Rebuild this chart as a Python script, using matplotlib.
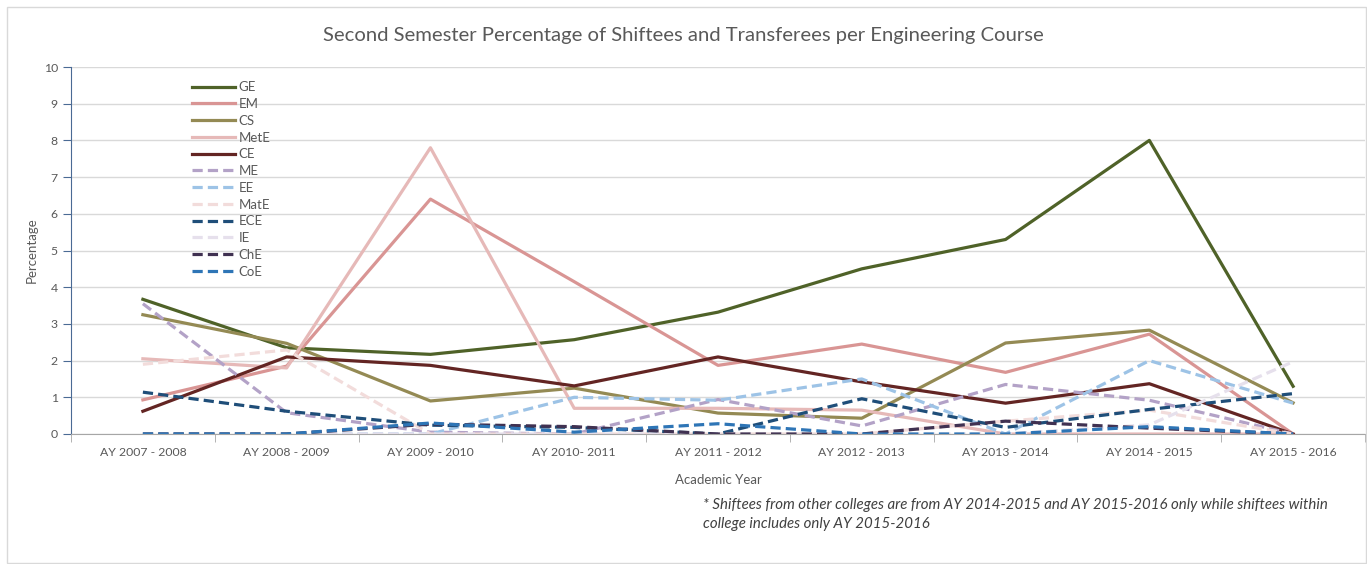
import matplotlib
matplotlib.use("Agg")
import matplotlib.pyplot as plt
from matplotlib.patches import Rectangle

plt.rcParams['font.family'] = ['Lato', 'DejaVu Sans']

years = ["AY 2007 - 2008", "AY 2008 - 2009", "AY 2009 - 2010", "AY 2010- 2011",
         "AY 2011 - 2012", "AY 2012 - 2013", "AY 2013 - 2014", "AY 2014 - 2015",
         "AY 2015 - 2016"]

GE = [3.67, 2.35, 2.17, 2.57, 3.32, 4.5, 5.3, 8.0, 1.3]
EM = [0.93, 1.85, 6.4, 4.15, 1.87, 2.45, 1.68, 2.72, 0.0]
CS = [3.25, 2.47, 0.9, 1.25, 0.57, 0.43, 2.48, 2.83, 0.85]
MetE = [2.05, 1.8, 7.8, 0.7, 0.7, 0.65, 0.0, 0.0, 0.0]
CE = [0.62, 2.1, 1.87, 1.31, 2.1, 1.42, 0.84, 1.37, 0.0]
ME = [3.55, 0.58, 0.05, 0.0, 0.94, 0.22, 1.35, 0.92, 0.0]
EE = [0.0, 0.0, 0.0, 1.0, 0.92, 1.5, 0.0, 2.0, 0.84]
MatE = [1.9, 2.29, 0.0, 0.0, 0.0, 0.0, 0.35, 0.65, 0.0]
ECE = [1.14, 0.62, 0.24, 0.18, 0.0, 0.96, 0.18, 0.67, 1.1]
IE = [0.0, 0.0, 0.0, 0.0, 0.0, 0.0, 0.0, 0.25, 1.97]
ChE = [0.0, 0.0, 0.27, 0.2, 0.0, 0.0, 0.35, 0.16, 0.0]
CoE = [0.0, 0.0, 0.3, 0.05, 0.28, 0.0, 0.0, 0.2, 0.0]

series = [
    ("GE", GE, "#4f6228", "-"),
    ("EM", EM, "#d99594", "-"),
    ("CS", CS, "#948a54", "-"),
    ("MetE", MetE, "#e6b9b8", "-"),
    ("CE", CE, "#632523", "-"),
    ("ME", ME, "#b3a2c7", "--"),
    ("EE", EE, "#9dc3e6", "--"),
    ("MatE", MatE, "#f2dcdb", "--"),
    ("ECE", ECE, "#1f4e79", "--"),
    ("IE", IE, "#e6e0ec", "--"),
    ("ChE", ChE, "#403151", "--"),
    ("CoE", CoE, "#2e75b6", "--"),
]

fig = plt.figure(figsize=(13.67, 5.64), dpi=100)
fig.patches.append(Rectangle((0.005, 0.002), 0.994, 0.985, transform=fig.transFigure,
                             fill=False, edgecolor="#d9d9d9", linewidth=1.0))
ax = fig.add_axes([71 / 1367, 1 - 434 / 564, (1365 - 71) / 1367, (434 - 67) / 564])

x = list(range(len(years)))
for name, vals, col, ls in series:
    if ls == "--":
        ax.plot(x, vals, color=col, lw=2.3, linestyle=(0, (3.2, 1.6)), label=name)
    else:
        ax.plot(x, vals, color=col, lw=2.3, label=name)

ax.set_xlim(-0.5, len(years) - 0.5)
ax.set_ylim(0, 10)
ax.set_yticks(range(0, 11))
ax.set_xticks(x)
ax.set_xticklabels(years)
ax.set_xticks([i - 0.5 for i in range(len(years) + 1)], minor=True)
ax.tick_params(axis='x', which='major', length=0, labelsize=8.8, colors="#595959", pad=9)
ax.tick_params(axis='x', which='minor', length=6, color="#a6a6a6", direction='out')
ax.tick_params(axis='y', length=6, color="#4a6a94", labelsize=8.8, labelcolor="#595959", direction='out')
ax.grid(axis='y', color="#d9d9d9", lw=1.0)
ax.set_axisbelow(True)
for s in ["top", "right"]:
    ax.spines[s].set_visible(False)
ax.spines["left"].set_color("#4a6a94")
ax.spines["bottom"].set_color("#a6a6a6")

ax.set_ylabel("Percentage", fontsize=9.5, color="#595959", labelpad=4)
ax.set_xlabel("Academic Year", fontsize=9.5, color="#595959", labelpad=12)

fig.text(0.5, 1 - 35 / 564, "Second Semester Percentage of Shiftees and Transferees per Engineering Course",
         ha="center", va="center", fontsize=14.6, color="#595959")

leg = ax.legend(loc="upper left", bbox_to_anchor=((187 - 71) / 1294, 1 - (76 - 67) / 367),
                frameon=False, fontsize=9.5, labelspacing=0.36, handlelength=3.2,
                handletextpad=0.3, borderaxespad=0)
for t in leg.get_texts():
    t.set_color("#595959")

fig.text(703 / 1367, 1 - 505 / 564,
         "* Shiftees from other colleges are from AY 2014-2015 and AY 2015-2016 only while shiftees within",
         ha="left", va="center", fontsize=10.8, style="italic", color="#404040")
fig.text(703 / 1367, 1 - 524 / 564, "college includes only AY 2015-2016",
         ha="left", va="center", fontsize=10.8, style="italic", color="#404040")

fig.savefig("out.png", dpi=100)
